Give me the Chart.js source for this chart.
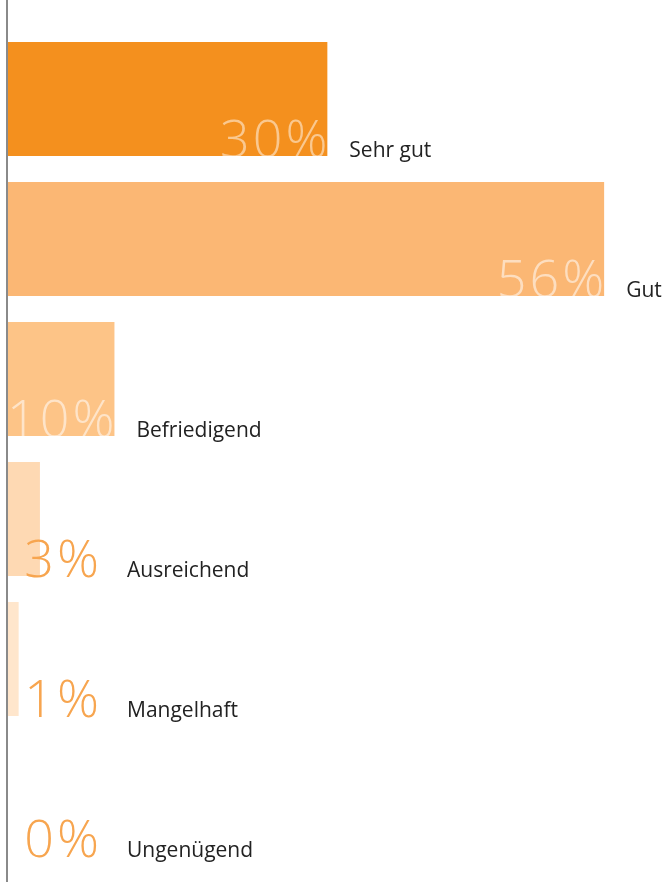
<!DOCTYPE html>
<html>
<head>
  <title>Bewertung</title>
  <script src="https://cdn.jsdelivr.net/npm/chart.js@4/dist/chart.umd.min.js"></script>
  <style>
    html, body { margin: 0; padding: 0; background: #fff; }
    #wrap { width: 668px; height: 882px; }
  </style>
</head>
<body>
  <div id="wrap"><canvas id="grades"></canvas></div>
  <script>
    var grades = ['Sehr gut', 'Gut', 'Befriedigend', 'Ausreichend', 'Mangelhaft', 'Ungenügend'];
    var shares = [30, 56, 10, 3, 1, 0];
    var barColors = ['#F4901E', '#FBB774', '#FDC487', '#FED9B3', '#FFE6CC', '#FFEBD6'];
    var pctColors = ['rgba(255,255,255,0.5)', 'rgba(255,255,255,0.55)', 'rgba(255,255,255,0.55)', '#F7A54F', '#F7A54F', '#F7A54F'];

    // vertical rule on the left, full height
    var leftRule = {
      id: 'leftRule',
      afterDraw: function(chart) {
        var ctx = chart.ctx;
        ctx.save();
        ctx.fillStyle = '#8a8a8a';
        ctx.fillRect(6, 0, 2, chart.height);
        ctx.restore();
      }
    };

    // percent values and grade names at the foot of each bar
    var barText = {
      id: 'barText',
      afterDatasetsDraw: function(chart) {
        var ctx = chart.ctx;
        var xs = chart.scales.x;
        var meta = chart.getDatasetMeta(0);
        ctx.save();
        shares.forEach(function(v, i) {
          var bar = meta.data[i];
          var bottom = bar.y + bar.height / 2;
          var end = Math.max(xs.getPixelForValue(v), 99);
          ctx.textBaseline = 'alphabetic';
          ctx.textAlign = 'right';
          ctx.font = '300 52px "Open Sans"';
          ctx.letterSpacing = '3px';
          ctx.fillStyle = pctColors[i];
          ctx.fillText(v + '%', end + 3, bottom + 1);
          ctx.letterSpacing = '0px';
          ctx.textAlign = 'left';
          ctx.font = '21px "Open Sans"';
          ctx.fillStyle = '#222';
          var lx = Math.max(xs.getPixelForValue(v), 105) + 22;
          ctx.fillText(grades[i], lx, bottom + 1);
        });
        ctx.restore();
      }
    };

    new Chart(document.getElementById('grades'), {
      type: 'bar',
      data: {
        labels: grades,
        datasets: [{
          data: shares,
          backgroundColor: barColors,
          borderWidth: 0,
          categoryPercentage: 114 / 140,
          barPercentage: 1
        }]
      },
      options: {
        indexAxis: 'y',
        responsive: true,
        maintainAspectRatio: false,
        animation: false,
        layout: { padding: { left: 8, right: 0, top: 29, bottom: 13 } },
        plugins: { legend: { display: false }, tooltip: { enabled: false } },
        scales: {
          x: { display: false, min: 0, max: 62 },
          y: { display: false }
        }
      },
      plugins: [leftRule, barText]
    });
  </script>
</body>
</html>
